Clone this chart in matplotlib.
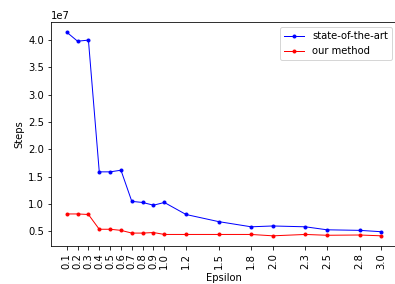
import matplotlib
matplotlib.use('Agg')
import matplotlib.pyplot as plt

# epsilon values and steps (in units of 1e7)
epsilon = [0.1, 0.2, 0.3, 0.4, 0.5, 0.6, 0.7, 0.8, 0.9, 1.0, 1.2, 1.5, 1.8, 2.0, 2.3, 2.5, 2.8, 3.0]
sota = [4.145, 3.98, 4.0, 1.59, 1.59, 1.62, 1.05, 1.03, 0.98, 1.03, 0.81, 0.68, 0.585, 0.60, 0.585, 0.53, 0.52, 0.495]
ours = [0.82, 0.82, 0.81, 0.54, 0.54, 0.52, 0.47, 0.47, 0.48, 0.445, 0.445, 0.445, 0.445, 0.42, 0.445, 0.43, 0.435, 0.42]

sota = [v * 1e7 for v in sota]
ours = [v * 1e7 for v in ours]

fig = plt.figure(figsize=(395 / 72, 284 / 72), dpi=72)
ax = fig.add_axes([51 / 395, 38 / 284, 346 / 395, 224 / 284])

ax.plot(epsilon, sota, 'b.-', linewidth=1, label='state-of-the-art')
ax.plot(epsilon, ours, 'r.-', linewidth=1, label='our method')

ax.set_xticks(epsilon)
ax.set_xticklabels([str(e) for e in epsilon], rotation=90)
ax.set_xlabel('Epsilon')
ax.set_ylabel('Steps')
ax.legend(loc='upper right')

fig.savefig('out.png', dpi=72)
